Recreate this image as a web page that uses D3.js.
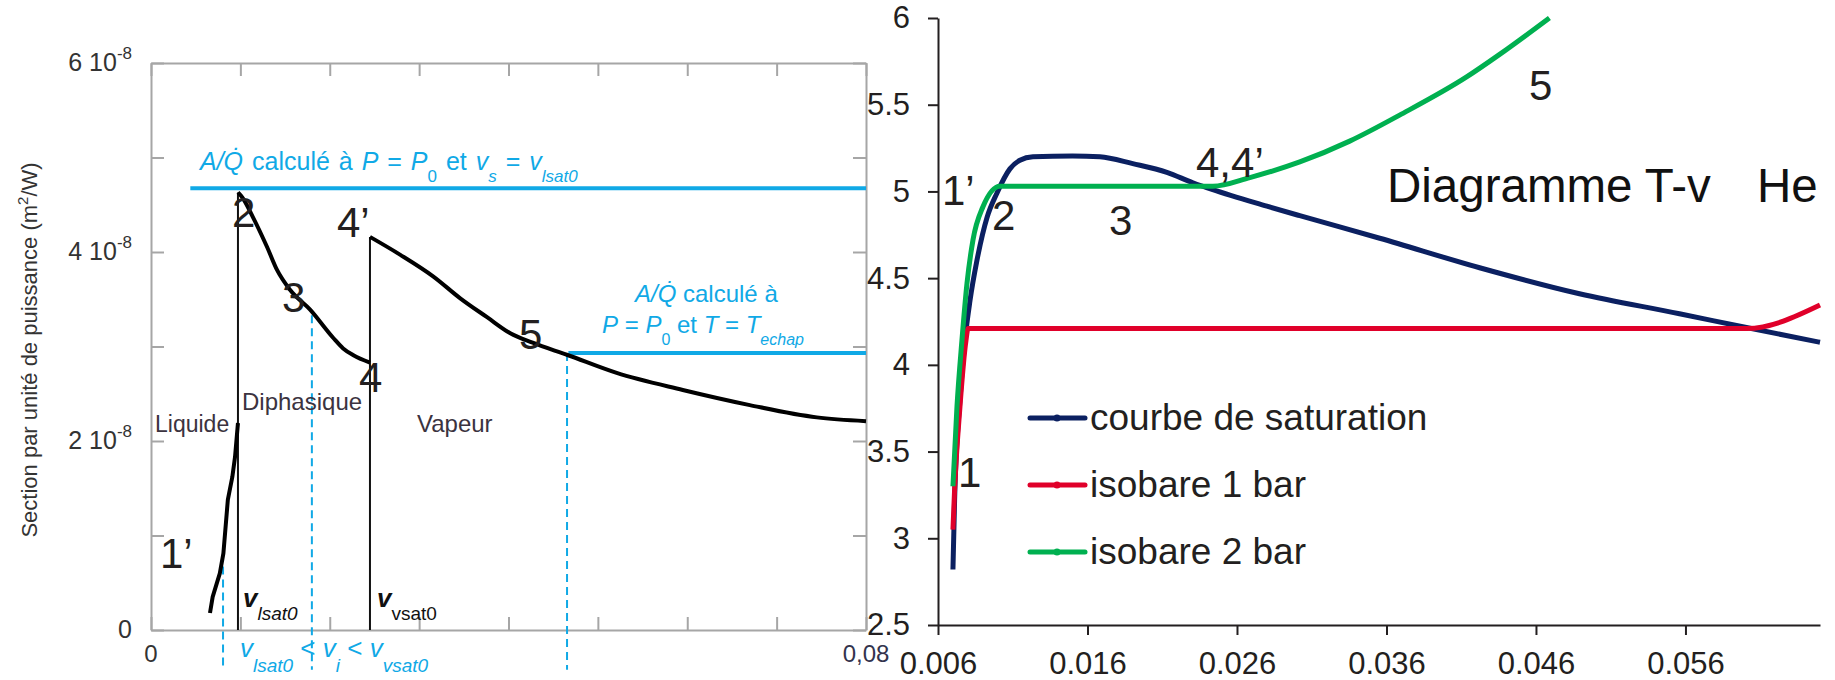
<!DOCTYPE html>
<html>
<head>
<meta charset="utf-8">
<script src="https://cdn.jsdelivr.net/npm/d3@7"></script>
<style>
body { margin: 0; background: #fff; }
svg { font-family: "Liberation Sans", Arial, sans-serif; }
text { white-space: pre; }
</style>
</head>
<body>
<script>
var w = 1835;
var h = 680;

//Left chart: section per unit power vs specific volume
var leftXTicks = [0, 0.01, 0.02, 0.03, 0.04, 0.05, 0.06, 0.07, 0.08];
var leftYTicks = [0, 1e-8, 2e-8, 3e-8, 4e-8, 5e-8, 6e-8];
var leftYLabelVals = [0, 2e-8, 4e-8, 6e-8];
var leftYLabelText = ["0", "2 10", "4 10", "6 10"];
var leftYLabelExp = ["", "-8", "-8", "-8"];
var leftXLabelVals = [0, 0.08];
var leftXLabelText = ["0", "0,08"];

var liquide = [[0.0066, 0.18e-8], [0.0069, 0.35e-8], [0.0077, 0.60e-8], [0.0081, 0.81e-8],
	[0.0086, 1.38e-8], [0.0091, 1.62e-8], [0.0094, 1.83e-8], [0.00973, 2.19e-8]];
var diphasique = [[0.00973, 4.63e-8], [0.0102, 4.58e-8], [0.0114, 4.37e-8], [0.0130, 4.05e-8],
	[0.0141, 3.81e-8], [0.01555, 3.60e-8], [0.0178, 3.39e-8], [0.0204, 3.09e-8],
	[0.0215, 2.98e-8], [0.0226, 2.91e-8], [0.0245, 2.83e-8]];
var vapeur = [[0.0245, 4.16e-8], [0.0279, 3.97e-8], [0.0316, 3.74e-8], [0.0346, 3.51e-8],
	[0.0376, 3.31e-8], [0.0402, 3.14e-8], [0.0427, 3.04e-8], [0.0466, 2.91e-8],
	[0.0521, 2.72e-8], [0.0595, 2.54e-8], [0.0670, 2.38e-8], [0.0745, 2.25e-8], [0.08, 2.21e-8]];
//phase limits (vertical black lines): x, top
var phaseLimits = [[0.00973, 4.63e-8], [0.0245, 4.16e-8]];
//reference levels A/Q (blue): x start, x end, value
var blueLevels = [[0.0044, 0.08, 4.675e-8], [0.0467, 0.08, 2.93e-8]];
//blue dashed markers: x, top, bottom
var blueDashes = [[0.00806, 0.81e-8, -0.42e-8], [0.0180, 3.33e-8, -0.42e-8], [0.04655, 2.93e-8, -0.42e-8]];

//Right chart: T-v diagram for helium
var rightXTicks = [0.006, 0.016, 0.026, 0.036, 0.046, 0.056];
var rightYTicks = [2.5, 3, 3.5, 4, 4.5, 5, 5.5, 6];
var seriesNames = ["courbe de saturation", "isobare 1 bar", "isobare 2 bar"];
var seriesColors = ["#0b2061", "#e0002a", "#00b050"];
var saturation = [[0.0070, 2.82], [0.00711, 3.22], [0.00747, 3.80], [0.0078, 4.14], [0.00814, 4.37],
	[0.0086, 4.60], [0.00928, 4.85], [0.00994, 4.99], [0.01081, 5.13], [0.01148, 5.18],
	[0.01235, 5.20], [0.0150, 5.205], [0.01683, 5.20], [0.01903, 5.16], [0.02131, 5.11],
	[0.02305, 5.05], [0.02438, 5.01], [0.0280, 4.915], [0.0302, 4.86], [0.03555, 4.73],
	[0.04223, 4.56], [0.04891, 4.41], [0.0556, 4.295], [0.06008, 4.215], [0.065, 4.13]];
var isobare1 = [[0.0070, 3.05], [0.00711, 3.28], [0.00747, 3.76], [0.00787, 4.14], [0.00801, 4.21],
	[0.0601, 4.21], [0.065, 4.345]];
var isobare2 = [[0.0070, 3.30], [0.00727, 3.76], [0.0076, 4.14], [0.00794, 4.47], [0.00834, 4.72],
	[0.0090, 4.91], [0.01014, 5.03], [0.02438, 5.03], [0.02686, 5.08], [0.0302, 5.17],
	[0.03354, 5.29], [0.03688, 5.44], [0.04136, 5.66], [0.04357, 5.79], [0.0469, 6.0]];

var blue = "#10a9e6";
var dark = "#231f20";

//Create svg
var svg = d3.select("body")
	.append("svg")
	.attr("width", w)
	.attr("height", h);

//text with italic / sub / sup parts
function rich(sel, x, y, size, color, parts) {
	var t = sel.append("text")
		.attr("x", x)
		.attr("y", y)
		.attr("font-size", size)
		.attr("fill", color);
	var shift = 0;
	parts.forEach(function(p) {
		var s = t.append("tspan").text(p.t);
		var target = p.off || 0;
		s.attr("dy", target - shift);
		shift = target;
		if (p.fs) s.attr("font-size", p.fs);
		if (p.it) s.attr("font-style", "italic");
		if (p.b) s.attr("font-weight", "bold");
	});
	return t;
}

function label(sel, x, y, size, color, txt) {
	return sel.append("text")
		.attr("x", x)
		.attr("y", y)
		.attr("font-size", size)
		.attr("fill", color)
		.text(txt);
}

// ---------------- left chart ----------------
var xL = d3.scaleLinear().domain([0, 0.08]).range([151, 866]);
var yL = d3.scaleLinear().domain([0, 6e-8]).range([630, 63]);
var left = svg.append("g");

//frame with inward ticks
var frame = [
	[d3.axisBottom(xL).tickValues(leftXTicks), "translate(0," + yL(0) + ")"],
	[d3.axisTop(xL).tickValues(leftXTicks), "translate(0," + yL(6e-8) + ")"],
	[d3.axisLeft(yL).tickValues(leftYTicks), "translate(" + xL(0) + ",0)"],
	[d3.axisRight(yL).tickValues(leftYTicks), "translate(" + xL(0.08) + ",0)"]
];
frame.forEach(function(f) {
	var g = left.append("g")
		.attr("transform", f[1])
		.call(f[0].tickSize(-13).tickSizeOuter(0).tickFormat(""));
	g.selectAll("path, line").attr("stroke", "#a6a6a6").attr("stroke-width", 2);
});

//tick labels
leftYLabelVals.forEach(function(v, i) {
	var t = left.append("text")
		.attr("x", 132)
		.attr("y", yL(v) + 8)
		.attr("text-anchor", "end")
		.attr("font-size", 25)
		.attr("fill", "#333");
	t.append("tspan").text(leftYLabelText[i]);
	if (leftYLabelExp[i]) {
		t.append("tspan").attr("dy", -12).attr("font-size", 17).text(leftYLabelExp[i]);
	}
});
leftXLabelVals.forEach(function(v, i) {
	left.append("text")
		.attr("x", xL(v))
		.attr("y", 662)
		.attr("text-anchor", "middle")
		.attr("font-size", 24)
		.attr("fill", i ? "#33334d" : "#333")
		.text(leftXLabelText[i]);
});

//y axis title
var yt = left.append("text")
	.attr("transform", "translate(37,350) rotate(-90)")
	.attr("text-anchor", "middle")
	.attr("font-size", 22)
	.attr("fill", "#333");
yt.append("tspan").text("Section par unité de puissance (m");
yt.append("tspan").attr("dy", -9).attr("font-size", 15).text("2");
yt.append("tspan").attr("dy", 9).text("/W)");

//blue dashed markers
left.selectAll(".dash")
	.data(blueDashes)
	.enter()
	.append("line")
	.attr("x1", function(d) { return xL(d[0]); })
	.attr("x2", function(d) { return xL(d[0]); })
	.attr("y1", function(d) { return yL(d[1]); })
	.attr("y2", function(d) { return yL(d[2]); })
	.attr("stroke", blue)
	.attr("stroke-width", 2)
	.attr("stroke-dasharray", "8,5");

//blue reference levels
left.selectAll(".level")
	.data(blueLevels)
	.enter()
	.append("line")
	.attr("x1", function(d) { return xL(d[0]); })
	.attr("x2", function(d) { return xL(d[1]); })
	.attr("y1", function(d) { return yL(d[2]); })
	.attr("y2", function(d) { return yL(d[2]); })
	.attr("stroke", blue)
	.attr("stroke-width", 4);

//phase limits
left.selectAll(".limit")
	.data(phaseLimits)
	.enter()
	.append("line")
	.attr("x1", function(d) { return xL(d[0]); })
	.attr("x2", function(d) { return xL(d[0]); })
	.attr("y1", function(d) { return yL(d[1]); })
	.attr("y2", yL(0))
	.attr("stroke", "#111")
	.attr("stroke-width", 2);

//section curves
var lineL = d3.line()
	.x(function(d) { return xL(d[0]); })
	.y(function(d) { return yL(d[1]); });
[liquide, diphasique, vapeur].forEach(function(c, i) {
	left.append("path")
		.attr("d", (i ? lineL.curve(d3.curveMonotoneX) : lineL.curve(d3.curveLinear))(c))
		.attr("fill", "none")
		.attr("stroke", "#000")
		.attr("stroke-width", 4)
		.attr("stroke-linejoin", "round");
});

//region names
label(left, 155, 432, 23, "#3b3340", "Liquide");
label(left, 242, 410, 24, "#3b3340", "Diphasique");
label(left, 417, 432, 24, "#3b3340", "Vapeur");

//point numbers
[["1\u2019", 160, 568], ["2", 232, 227], ["3", 282, 312], ["4", 359, 392], ["4\u2019", 337, 237], ["5", 519, 349]]
	.forEach(function(p) { label(left, p[1], p[2], 42, dark, p[0]); });

//v labels on the bottom
rich(left, 243, 607, 26, "#111", [{t: "v", it: 1, b: 1}, {t: "lsat0", it: 1, fs: 19, off: 13}]);
rich(left, 377, 607, 26, "#111", [{t: "v", it: 1, b: 1}, {t: "vsat0", fs: 19, off: 13}]);
rich(left, 240, 657, 26, blue, [
	{t: "v", it: 1}, {t: "lsat0", it: 1, fs: 19, off: 15},
	{t: " < "}, {t: "v", it: 1}, {t: "i", it: 1, fs: 19, off: 15},
	{t: " < "}, {t: "v", it: 1}, {t: "vsat0", it: 1, fs: 19, off: 15}
]);

//blue captions
rich(left, 200, 170, 25, blue, [
	{t: "A/Q\u0307", it: 1}, {t: " calculé à "}, {t: "P", it: 1}, {t: " = "}, {t: "P", it: 1},
	{t: "0", fs: 17, off: 12}, {t: " et "}, {t: "v", it: 1}, {t: "s", it: 1, fs: 17, off: 12},
	{t: " = "}, {t: "v", it: 1}, {t: "lsat0", it: 1, fs: 17, off: 12}
]).attr("word-spacing", 2);
rich(left, 635, 302, 24, blue, [{t: "A/Q\u0307", it: 1}, {t: " calculé à"}]);
rich(left, 602, 333, 24, blue, [
	{t: "P", it: 1}, {t: " = "}, {t: "P", it: 1}, {t: "0", fs: 16, off: 12}, {t: " et "},
	{t: "T", it: 1}, {t: " = "}, {t: "T", it: 1}, {t: "echap", it: 1, fs: 16, off: 12}
]);

// ---------------- right chart ----------------
var xR = d3.scaleLinear().domain([0.006, 0.065]).range([938, 1820]);
var yR = d3.scaleLinear().domain([2.5, 6]).range([625, 18]);
var right = svg.append("g");

var gx = right.append("g")
	.attr("transform", "translate(0," + yR(2.5) + ")")
	.call(d3.axisBottom(xR).tickValues(rightXTicks).tickSize(10).tickSizeOuter(0)
		.tickPadding(17).tickFormat(d3.format(".3f")));
var gy = right.append("g")
	.attr("transform", "translate(" + xR(0.006) + ",0)")
	.call(d3.axisLeft(yR).tickValues(rightYTicks).tickSize(10).tickSizeOuter(0)
		.tickPadding(18).tickFormat(d3.format("~g")));
[gx, gy].forEach(function(g) {
	g.selectAll("path, line").attr("stroke", dark).attr("stroke-width", 2);
	g.selectAll("text").attr("font-size", 31).attr("fill", dark)
		.attr("font-family", "'Liberation Sans', Arial, sans-serif");
});

var lineR = d3.line()
	.x(function(d) { return xR(d[0]); })
	.y(function(d) { return yR(d[1]); })
	.curve(d3.curveMonotoneX);
[saturation, isobare1, isobare2].forEach(function(c, i) {
	right.append("path")
		.attr("d", lineR(c))
		.attr("fill", "none")
		.attr("stroke", seriesColors[i])
		.attr("stroke-width", 5)
		.attr("stroke-linejoin", "round");
});

//legend
var legend = right.selectAll(".legend")
	.data(seriesNames)
	.enter()
	.append("g")
	.attr("transform", function(d, i) { return "translate(1030," + (418 + i * 67) + ")"; });
legend.append("line")
	.attr("x1", 0).attr("x2", 55)
	.attr("stroke", function(d, i) { return seriesColors[i]; })
	.attr("stroke-width", 5)
	.attr("stroke-linecap", "round");
legend.append("circle")
	.attr("cx", 27).attr("r", 3.5)
	.attr("fill", function(d, i) { return seriesColors[i]; });
legend.append("text")
	.attr("x", 60)
	.attr("y", 12)
	.attr("font-size", 37)
	.attr("fill", dark)
	.text(function(d) { return d; });

//point numbers and title
[["1\u2019", 942, 205], ["2", 992, 230], ["3", 1109, 235], ["4,4\u2019", 1196, 177], ["5", 1529, 100], ["1", 958, 487]]
	.forEach(function(p) { label(right, p[1], p[2], 42, dark, p[0]); });
label(right, 1387, 202, 47.5, "#111", "Diagramme T-v");
label(right, 1757, 202, 47.5, "#111", "He");
</script>
</body>
</html>
